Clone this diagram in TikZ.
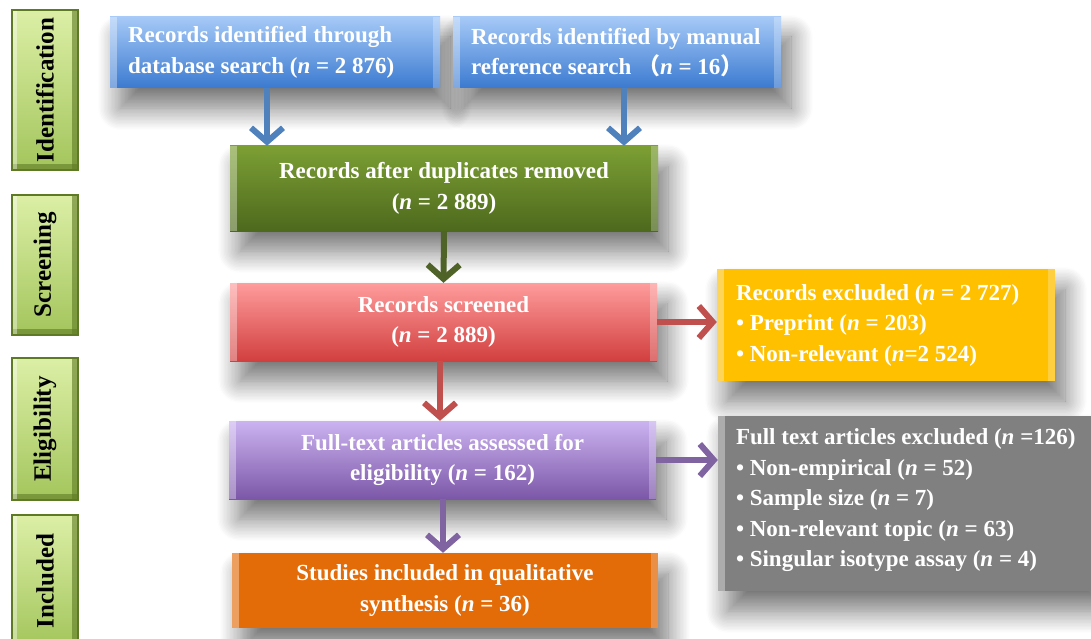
\documentclass[tikz,border=0pt]{standalone}
\usepackage{fontspec}
\setmainfont{Liberation Serif}
\newfontfamily\cjk{Noto Sans CJK SC}
\usetikzlibrary{arrows.meta,shadows.blur}
\definecolor{blueT}{HTML}{A6C9F7}
\definecolor{blueB}{HTML}{3B7AD0}
\definecolor{blueL}{HTML}{4F81BD}
\definecolor{greenT}{HTML}{7C9F34}
\definecolor{greenB}{HTML}{4D691D}
\definecolor{greenL}{HTML}{4F6228}
\definecolor{redT}{HTML}{FF9C9C}
\definecolor{redB}{HTML}{D23F3F}
\definecolor{redL}{HTML}{C0504D}
\definecolor{purT}{HTML}{CBB3F0}
\definecolor{purB}{HTML}{7C57A8}
\definecolor{purL}{HTML}{8064A2}
\definecolor{orangeF}{HTML}{E36C09}
\definecolor{yellowF}{HTML}{FFC000}
\definecolor{grayF}{HTML}{808080}
\definecolor{phT}{HTML}{DCEFA6}
\definecolor{phB}{HTML}{A3C55C}
\definecolor{phL}{HTML}{5E7A25}
\begin{document}
\begin{tikzpicture}[x=1pt,y=-1pt,
  box/.style={rectangle, inner sep=0pt, text=white, align=center,
    font=\bfseries\fontsize{23}{30.5}\selectfont,
    blur shadow={shadow xshift=10pt, shadow yshift=-20pt, shadow scale=1.0, shadow blur radius=22pt, shadow opacity=55, shadow blur steps=16},
    path picture={
      \fill[white,opacity=0.35] (path picture bounding box.north west) rectangle ([xshift=7pt]path picture bounding box.south west);
      \fill[white,opacity=0.25] (path picture bounding box.north east) rectangle ([xshift=-7pt]path picture bounding box.south east);
    }},
  lefttxt/.style={anchor=west, inner sep=0pt, text=white, align=left,
    font=\bfseries\fontsize{23}{30.5}\selectfont},
  phase/.style={rectangle, inner sep=0pt, minimum width=66pt,
    top color=phT, bottom color=phB, draw=phL, line width=2pt,
    path picture={
      \fill[phL,opacity=0.6] (path picture bounding box.north east) rectangle ([xshift=-6pt]path picture bounding box.south east);
      \fill[phL,opacity=0.6] (path picture bounding box.south west) rectangle ([yshift=6pt]path picture bounding box.south east);
      \fill[white,opacity=0.4] (path picture bounding box.north west) rectangle ([xshift=5pt]path picture bounding box.south west);
    }},
  phtxt/.style={rotate=90, font=\bfseries\fontsize{25}{28}\selectfont, text=black},
  arr/.style={line width=6pt, -{Straight Barb[length=14pt,width=32pt]}}
]
\useasboundingbox (0,0) rectangle (1091,639);

% phase labels
\node[phase, minimum height=160pt] (pid) at (45,90) {};
\node[phtxt] (tid) at (pid.center) {Identification};
\node[phase, minimum height=140pt] (psc) at (45,265) {};
\node[phtxt] (tsc) at (psc.center) {Screening};
\node[phase, minimum height=142pt] (pel) at (45,429) {};
\node[phtxt] (tel) at (pel.center) {Eligibility};
\node[phase, minimum height=132pt] (pin) at (45,581) {};
\node[phtxt] (tin) at (pin.center) {Included};

% main boxes
\node[box, minimum width=330pt, minimum height=71pt, top color=blueT, bottom color=blueB] (id1) at (275,52.5) {};
\node[box, minimum width=328pt, minimum height=71pt, top color=blueT, bottom color=blueB] (id2) at (617,52.5) {};
\node[lefttxt] (id1t) at ([xshift=18pt]id1.west) {Records identified through\\database search (\textit{n} = 2 876)};
\node[lefttxt] (id2t) at ([xshift=18pt]id2.west) {Records identified by manual\\reference search {\cjk（}\textit{n} = 16{\cjk）}};

\node[box, minimum width=428pt, minimum height=85pt, top color=greenT, bottom color=greenB] (dup) at (444,188.5)
  {Records after duplicates removed\\(\textit{n} = 2 889)};
\node[box, minimum width=427pt, minimum height=78pt, top color=redT, bottom color=redB] (scr) at (443.5,322)
  {Records screened\\(\textit{n} = 2 889)};
\node[box, minimum width=427pt, minimum height=78pt, top color=purT, bottom color=purB] (elig) at (442.5,460)
  {Full-text articles assessed for\\eligibility (\textit{n} = 162)};
\node[box, minimum width=426pt, minimum height=75pt, fill=orangeF] (incl) at (445,590.5)
  {Studies included in qualitative\\synthesis (\textit{n} = 36)};

\node[box, minimum width=338pt, minimum height=112pt, fill=yellowF] (exc1) at (886,325) {};
\node[lefttxt] (exc1t) at ([xshift=19pt]exc1.west) {Records excluded (\textit{n} = 2 727)\\\textbullet\ Preprint (\textit{n} = 203)\\\textbullet\ Non-relevant (\textit{n}=2 524)};
\node[box, minimum width=380pt, minimum height=175pt, fill=grayF] (exc2) at (908,503.5) {};
\node[lefttxt] (exc2t) at ([xshift=18pt,yshift=3pt]exc2.west) {Full text articles excluded (\textit{n} =126)\\\textbullet\ Non-empirical (\textit{n} = 52)\\\textbullet\ Sample size (\textit{n} = 7)\\\textbullet\ Non-relevant topic (\textit{n} = 63)\\\textbullet\ Singular isotype assay (\textit{n} = 4)};

% arrows
\draw[arr, blueL] (id1.south -| 267,0) -- (dup.north -| 267,0);
\draw[arr, blueL] (id2.south -| 624,0) -- (dup.north -| 624,0);
\draw[arr, greenL] (dup.south) -- (scr.north);
\draw[arr, redL] (scr.south -| 440,0) -- (elig.north -| 440,0);
\draw[arr, purL] (elig.south -| 443,0) -- (incl.north -| 443,0);
\draw[arr, redL] (scr.east) -- (scr.east -| exc1.west);
\draw[arr, purL] (elig.east) -- (elig.east -| exc2.west);
\end{tikzpicture}
\end{document}
